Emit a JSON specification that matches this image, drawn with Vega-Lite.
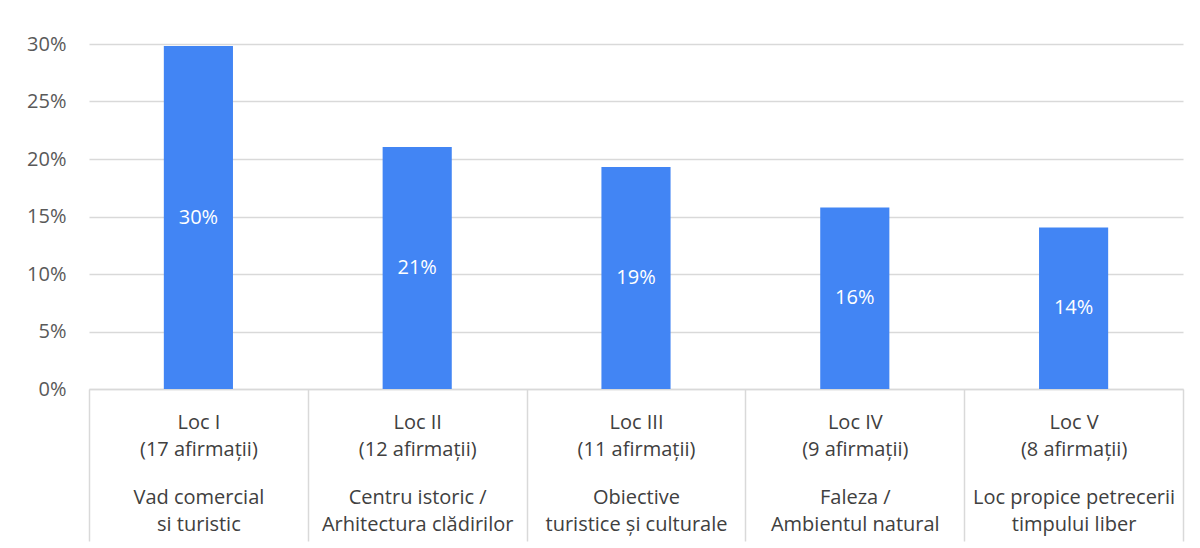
{
  "$schema": "https://vega.github.io/schema/vega-lite/v6.json",
  "width": 1094,
  "height": 345,
  "autosize": {"type": "none"},
  "padding": {"left": 89, "top": 44, "right": 17, "bottom": 159},
  "background": "#ffffff",
  "config": {
    "view": {"stroke": null},
    "font": "Open Sans"
  },
  "data": {
    "values": [
      {"cat": "Loc I|(17 afirmații)|Vad comercial|si turistic", "share": 0.2982},
      {"cat": "Loc II|(12 afirmații)|Centru istoric /|Arhitectura clădirilor", "share": 0.2105},
      {"cat": "Loc III|(11 afirmații)|Obiective|turistice și culturale", "share": 0.193},
      {"cat": "Loc IV|(9 afirmații)|Faleza /|Ambientul natural", "share": 0.1579},
      {"cat": "Loc V|(8 afirmații)|Loc propice petrecerii|timpului liber", "share": 0.1404}
    ]
  },
  "layer": [
    {
      "mark": {"type": "bar", "color": "#4285F4", "width": {"band": 0.316}},
      "encoding": {
        "x": {
          "field": "cat",
          "type": "nominal",
          "sort": null,
          "scale": {"paddingInner": 0, "paddingOuter": 0},
          "axis": {
            "orient": "bottom",
            "title": null,
            "labelExpr": "datum.value ? slice(split(datum.value, '|'), 0, 2) : ''",
            "labelAngle": 0,
            "labelFontSize": 20,
            "labelColor": "#404040",
            "labelFont": "Open Sans",
            "labelLineHeight": 27,
            "labelBaseline": "top",
            "labelPadding": -129,
            "labelLimit": 300,
            "tickBand": "extent",
            "tickSize": 152,
            "tickColor": "#d9d9d9",
            "tickWidth": 1.5,
            "domainColor": "#d9d9d9",
            "domainWidth": 1.5,
            "grid": false
          }
        },
        "y": {
          "field": "share",
          "type": "quantitative",
          "scale": {"domain": [0, 0.3], "nice": false},
          "axis": {
            "title": null,
            "values": [0, 0.05, 0.1, 0.15, 0.2, 0.25, 0.3],
            "format": ".0%",
            "labelFontSize": 20,
            "labelColor": "#595959",
            "labelFont": "Open Sans",
            "labelPadding": 23,
            "ticks": false,
            "domain": false,
            "grid": true,
            "gridColor": "#d9d9d9",
            "gridWidth": 1.5
          }
        }
      }
    },
    {
      "mark": {"type": "text", "color": "#ffffff", "fontSize": 20, "font": "Open Sans", "baseline": "middle", "align": "center"},
      "encoding": {
        "x": {
          "field": "cat",
          "type": "nominal",
          "sort": null,
          "scale": {"paddingInner": 0, "paddingOuter": 0},
          "axis": {
            "orient": "bottom",
            "title": null,
            "labelExpr": "slice(split(datum.value, '|'), 2)",
            "labelAngle": 0,
            "labelFontSize": 20,
            "labelColor": "#404040",
            "labelFont": "Open Sans",
            "labelLineHeight": 27,
            "labelBaseline": "top",
            "labelPadding": 98,
            "labelLimit": 300,
            "ticks": false,
            "domain": false,
            "grid": false
          }
        },
        "y": {"field": "share", "type": "quantitative", "scale": {"domain": [0, 0.6], "nice": false}, "axis": null},
        "text": {"field": "share", "type": "quantitative", "format": ".0%"}
      }
    }
  ],
  "resolve": {"scale": {"x": "independent", "y": "independent"}, "axis": {"x": "independent", "y": "independent"}}
}
